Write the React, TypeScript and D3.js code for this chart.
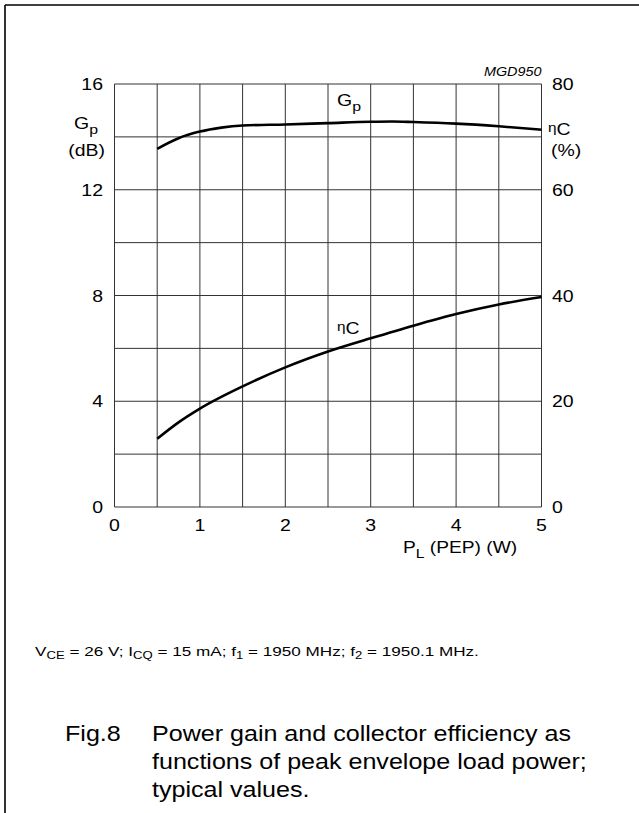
import React from "react";
import * as d3 from "d3";

const pl = [0.5, 0.75, 1, 1.25, 1.5, 2, 2.5, 3, 3.25, 3.5, 4, 4.5, 5];
const gp = [13.55, 13.95, 14.2, 14.35, 14.43, 14.47, 14.52, 14.57, 14.58, 14.56, 14.5, 14.4, 14.27];
const etaX = [0.5, 0.75, 1, 1.5, 2, 2.5, 3, 3.5, 4, 4.5, 5];
const eta = [12.9, 16.0, 18.6, 22.8, 26.4, 29.4, 31.9, 34.3, 36.5, 38.3, 39.7];
const xTicks = [0, 1, 2, 3, 4, 5];
const leftTicks = [0, 4, 8, 12, 16];
const rightTicks = [0, 20, 40, 60, 80];
const xGrid = d3.range(0, 5.01, 0.5);
const yGrid = d3.range(0, 16.01, 2);

const FONT = "'Liberation Sans', Arial, sans-serif";

function T(props: { x: number; y: number; size: number; sx?: number; anchor?: string; italic?: boolean; children: React.ReactNode }) {
  const { x, y, size, sx = 1.18, anchor = "start", italic, children } = props;
  return (
    <g transform={`translate(${x},${y}) scale(${sx},1)`}>
      <text x={0} y={0} fontSize={size} textAnchor={anchor} fontStyle={italic ? "italic" : "normal"}>{children}</text>
    </g>
  );
}

export default function App() {
  const W = 639, H = 813;
  const x = d3.scaleLinear().domain([0, 5]).range([114.5, 541.5]);
  const yL = d3.scaleLinear().domain([0, 16]).range([507, 84]);
  const yR = d3.scaleLinear().domain([0, 80]).range([507, 84]);
  const lineG = d3.line<number>().x((_, i) => x(pl[i])).y((d) => yL(d)).curve(d3.curveMonotoneX);
  const lineE = d3.line<number>().x((_, i) => x(etaX[i])).y((d) => yR(d)).curve(d3.curveMonotoneX);
  const grid = "#333";
  return (
    <svg width={W} height={H} style={{ position: "absolute", left: 0, top: 0, background: "#fff" }} fontFamily={FONT}>
      <rect x={0} y={0} width={W} height={H} fill="#fff" />
      <line x1={5} y1={5} x2={W} y2={5} stroke="#000" strokeWidth={1.6} />
      <line x1={5} y1={5} x2={5} y2={H} stroke="#000" strokeWidth={1.6} />
      {xGrid.map((v) => (
        <line key={"vx" + v} x1={x(v)} x2={x(v)} y1={yL(16)} y2={yL(0)} stroke={grid} strokeWidth={1} />
      ))}
      {yGrid.map((v) => (
        <line key={"hy" + v} x1={x(0)} x2={x(5)} y1={yL(v)} y2={yL(v)} stroke={grid} strokeWidth={1} />
      ))}
      <path d={lineG(gp) || ""} fill="none" stroke="#000" strokeWidth={2.6} />
      <path d={lineE(eta) || ""} fill="none" stroke="#000" strokeWidth={2.6} />
      {leftTicks.map((v) => (
        <T key={"l" + v} x={103} y={yL(v) + 6} size={16.5} anchor="end">{v}</T>
      ))}
      {rightTicks.map((v) => (
        <T key={"r" + v} x={552} y={yR(v) + 6} size={16.5}>{v}</T>
      ))}
      {xTicks.map((v) => (
        <T key={"x" + v} x={x(v)} y={531} size={16.5} anchor="middle">{v}</T>
      ))}
      <T x={74} y={129} size={16.5}>G<tspan fontSize={13.5} dy={5}>p</tspan></T>
      <T x={105} y={156} size={16.5} anchor="end">(dB)</T>
      <T x={548} y={135} size={16.5}><tspan fontSize={13} dy={-3}>η</tspan><tspan dy={3}>C</tspan></T>
      <T x={551} y={156} size={16.5}>(%)</T>
      <T x={541.5} y={76} size={12} sx={1.2} anchor="end" italic>MGD950</T>
      <T x={337} y={106} size={16.5}>G<tspan fontSize={13.5} dy={5}>p</tspan></T>
      <T x={337} y={334} size={16.5}><tspan fontSize={13} dy={-3}>η</tspan><tspan dy={3}>C</tspan></T>
      <T x={403} y={553} size={16} sx={1.2}>P<tspan fontSize={13} dy={5}>L</tspan><tspan dy={-5}> (PEP) (W)</tspan></T>
      <T x={35} y={656} size={13.7} sx={1.25}>
        V<tspan fontSize={10.5} dy={3}>CE</tspan><tspan dy={-3}> = 26 V; I</tspan><tspan fontSize={10.5} dy={3}>CQ</tspan>
        <tspan dy={-3}> = 15 mA; f</tspan><tspan fontSize={10.5} dy={3}>1</tspan><tspan dy={-3}> = 1950 MHz; f</tspan>
        <tspan fontSize={10.5} dy={3}>2</tspan><tspan dy={-3}> = 1950.1 MHz.</tspan>
      </T>
      <T x={65} y={741} size={22} sx={1.14}>Fig.8</T>
      <T x={152} y={741} size={22} sx={1.14}>Power gain and collector efficiency as</T>
      <T x={152} y={769} size={22} sx={1.14}>functions of peak envelope load power;</T>
      <T x={152} y={797} size={22} sx={1.14}>typical values.</T>
    </svg>
  );
}
